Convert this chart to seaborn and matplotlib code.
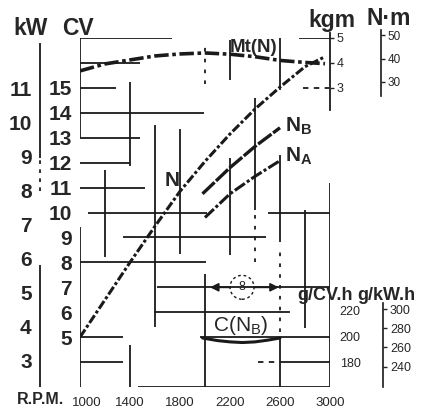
import matplotlib
matplotlib.use("Agg")
import matplotlib.pyplot as plt
import seaborn as sns
from matplotlib.patches import Ellipse
from matplotlib.transforms import ScaledTranslation

# ---------------- data ----------------
rpm_ticks = [1000, 1400, 1800, 2200, 2600, 3000]
cv_ticks = list(range(5, 16))
kw_ticks = list(range(3, 12))
kgm_ticks = [3, 4, 5]
nm_ticks = [30, 40, 50]
gcv_ticks = [180, 200, 220]
gkw_ticks = [240, 260, 280, 300]

rpm_N = [1000, 1200, 1400, 1600, 1800, 2000, 2200, 2400, 2600, 2800, 2960]
power_N_cv = [5.0, 6.5, 8.0, 9.45, 10.85, 12.05, 13.15, 14.15, 15.03, 15.85, 16.25]

rpm_Mt = [1000, 1200, 1400, 1600, 1800, 2000, 2200, 2400, 2600, 2800, 2960]
torque_kgm = [3.68, 3.96, 4.12, 4.28, 4.36, 4.40, 4.35, 4.25, 4.10, 4.02, 3.97]

rpm_NB = [1980, 2200, 2400, 2600]
power_NB_cv = [10.75, 11.8, 12.65, 13.4]

rpm_NA = [2000, 2200, 2400, 2600]
power_NA_cv = [9.8, 10.75, 11.45, 12.08]

rpm_C = [1980, 2100, 2200, 2300, 2400, 2500, 2600]
cons_C_gcvh = [198.5, 196.5, 195.5, 195.0, 195.5, 196.8, 198.5]

# broken grid of the original drawing: (level, from, to)
grid_h = [(17, 1000, 1740), (17, 2750, 3000), (16, 1000, 1480), (15, 1000, 1290),
          (14, 1000, 1990), (13, 1000, 1480), (12, 1000, 1400), (11, 1000, 1520),
          (10, 1060, 2020), (10, 2500, 3000), (9, 1345, 2490), (8, 1000, 2010),
          (7, 1620, 3000), (6, 1590, 2680), (5, 1000, 1340), (5, 1960, 3000),
          (4, 1000, 1340), (4, 2600, 3000), (3, 1460, 3000)]
grid_h_dashed = [(15, 2780, 2990), (4, 2420, 2600)]
grid_v = [(1000, 13.0, 17.0), (1000, 3.0, 9.4), (1200, 8.2, 11.7),
          (1400, 11.85, 15.25), (1400, 3.0, 4.7), (1600, 5.4, 13.5),
          (1800, 8.35, 13.35), (2000, 3.0, 7.55), (2200, 15.3, 16.9),
          (2200, 8.3, 12.2), (2400, 10.1, 14.6), (2600, 14.9, 17.0),
          (2600, 8.8, 12.3), (2600, 3.0, 4.95), (2800, 5.35, 10.1),
          (3000, 3.0, 11.2)]
grid_v_dashed = [(2000, 15.15, 16.75), (2400, 8.0, 10.1), (2600, 5.2, 8.6)]

range_rpm = (2040, 2590)   # arrows around the circled 8
range_cv = 7.0
circle_rpm = 2296

CV_PER_KW = 1.3596
KGM_OFFSET = 12.0   # kgm axis = CV axis - 12

# ---------------- figure ----------------
sns.set_theme(style="white")
plt.rcParams['font.family'] = ['Liberation Sans', 'DejaVu Sans']

W, H = 427, 408
fig = plt.figure(figsize=(W / 100, H / 100), dpi=100)
fig.patch.set_facecolor('white')


def fx(px):
    return px / W


def fy(py):
    return 1 - py / H


ax = fig.add_axes([fx(80), fy(387), fx(330) - fx(80), fy(38) - fy(387)])
ax.set_xlim(1000, 3000)
ax.set_ylim(3, 17)
ax.set_facecolor('none')
for s in ax.spines.values():
    s.set_visible(False)

LW = 1.3
for y, x0, x1 in grid_h:
    ax.hlines(y, x0, x1, color='k', lw=LW)
for y, x0, x1 in grid_h_dashed:
    ax.hlines(y, x0, x1, color='k', lw=LW, linestyles=(0, (3, 3)))
for x, y0, y1 in grid_v:
    ax.vlines(x, y0, y1, color='k', lw=LW)
for x, y0, y1 in grid_v_dashed:
    ax.vlines(x, y0, y1, color='k', lw=LW, linestyles=(0, (2, 4)))

# power curves
sns.lineplot(x=rpm_N, y=power_N_cv, ax=ax, color='k', lw=2.2,
             linestyle=(0, (3, 0.8, 1, 0.8)))
sns.lineplot(x=rpm_NB, y=power_NB_cv, ax=ax, color='k', lw=2.4,
             linestyle=(0, (5, 0.6)))
sns.lineplot(x=rpm_NA, y=power_NA_cv, ax=ax, color='k', lw=2.2,
             linestyle=(0, (4, 0.8, 1, 0.8)))

ax.set_xticks(rpm_ticks)
ax.set_xticklabels([str(v) for v in rpm_ticks])
ax.set_yticks(cv_ticks)
ax.set_yticklabels([str(v) for v in cv_ticks])
ax.tick_params(axis='x', length=0, pad=7, labelsize=9.5)
ax.tick_params(axis='y', length=0, pad=6, labelsize=15)
for t in ax.get_yticklabels():
    t.set_fontweight('bold')
lab0 = ax.get_xticklabels()[0]
lab0.set_transform(lab0.get_transform() + ScaledTranslation(5 / 72, 0, fig.dpi_scale_trans))

# curve labels
ax.text(1736, 11.3, "N", fontsize=15, weight='bold', ha='center', va='center')
ax.text(2640, 13.45, r"N$_\mathregular{B}$", fontsize=15, weight='bold', ha='left', va='center')
ax.text(2640, 12.25, r"N$_\mathregular{A}$", fontsize=15, weight='bold', ha='left', va='center')
ax.text(2392, 16.6, "Mt(N)", fontsize=13.5, weight='bold', ha='center', va='center')
ax.text(2064, 5.48, r"C(N$_\mathregular{B}$)", fontsize=15, ha='left', va='center')

# circled 8 with range arrows
ax.add_patch(Ellipse((circle_rpm, range_cv), width=192, height=0.96, fill=False,
                     ls=(0, (2, 2)), lw=1.0, color='k'))
ax.text(circle_rpm, range_cv, "8", fontsize=9, ha='center', va='center')
ax.annotate('', xy=(range_rpm[0], range_cv), xytext=(circle_rpm - 96, range_cv),
            arrowprops=dict(arrowstyle='-|>', color='k', lw=1.3, mutation_scale=12,
                            shrinkA=0, shrinkB=0))
ax.annotate('', xy=(range_rpm[1], range_cv), xytext=(circle_rpm + 96, range_cv),
            arrowprops=dict(arrowstyle='-|>', color='k', lw=1.3, mutation_scale=12,
                            shrinkA=0, shrinkB=0))

# torque axis (kgm) on the right
ax_t = ax.twinx()
ax_t.set_ylim(3 - KGM_OFFSET, 17 - KGM_OFFSET)
for k, s in ax_t.spines.items():
    s.set_visible(k == 'right')
ax_t.spines['right'].set_bounds(2.1, 5.2)
ax_t.spines['right'].set_linewidth(LW)
ax_t.spines['right'].set_color('k')
ax_t.set_yticks(kgm_ticks)
ax_t.tick_params(axis='y', direction='out', length=3, width=1, pad=2, labelsize=9)
sns.lineplot(x=rpm_Mt, y=torque_kgm, ax=ax_t, color='k', lw=2.6,
             linestyle=(0, (4, 1, 1, 1)))
ax_t.set_ylabel('')

# consumption axis (g/CV.h)
ax_g = ax.twinx()
g_lo, g_hi = 160.8, 429.2
ax_g.set_ylim(g_lo, g_hi)
for s in ax_g.spines.values():
    s.set_visible(False)
ax_g.set_yticks(gcv_ticks)
ax_g.tick_params(axis='y', length=0, pad=7, labelsize=9)
sns.lineplot(x=rpm_C, y=cons_C_gcvh, ax=ax_g, color='k', lw=2.2)
ax_g.set_ylabel('')

# g/kW.h axis
ax_gk = fig.add_axes([fx(380), fy(387), fx(383) - fx(380), fy(38) - fy(387)])
ax_gk.set_ylim(g_lo * CV_PER_KW, g_hi * CV_PER_KW)
ax_gk.patch.set_visible(False)
for k, s in ax_gk.spines.items():
    s.set_visible(k == 'right')
ax_gk.spines['right'].set_bounds(g_lo * CV_PER_KW, 306)
ax_gk.spines['right'].set_color('k')
ax_gk.spines['right'].set_linewidth(1.2)
ax_gk.set_xticks([])
ax_gk.yaxis.tick_right()
ax_gk.set_yticks(gkw_ticks)
ax_gk.tick_params(axis='y', direction='out', length=3, width=1, pad=2, labelsize=9)

# N.m axis
nm_lo, nm_hi = 22.34, 52.98
ax_nm = fig.add_axes([fx(378), fy(100), fx(381) - fx(378), fy(28) - fy(100)])
ax_nm.set_ylim(nm_lo, nm_hi)
ax_nm.patch.set_visible(False)
for k, s in ax_nm.spines.items():
    s.set_visible(k == 'right')
ax_nm.spines['right'].set_bounds(23.9, 52.1)
ax_nm.spines['right'].set_color('k')
ax_nm.spines['right'].set_linewidth(1.2)
ax_nm.set_xticks([])
ax_nm.yaxis.tick_right()
ax_nm.set_yticks(nm_ticks)
ax_nm.tick_params(axis='y', direction='out', length=3, width=1, pad=2, labelsize=8.5)

# kW axis on the far left
ax_kw = fig.add_axes([fx(40), fy(387), fx(3), fy(38) - fy(387)])
ax_kw.set_ylim(3 / CV_PER_KW, 17 / CV_PER_KW)
ax_kw.patch.set_visible(False)
for s in ax_kw.spines.values():
    s.set_visible(False)
ax_kw.set_xticks([])
ax_kw.set_yticks(kw_ticks)
ax_kw.tick_params(axis='y', direction='out', length=4, width=1.3, pad=2, labelsize=15)
for t in ax_kw.get_yticklabels():
    t.set_fontweight('bold')
tr = ax_kw.get_yaxis_transform()
ax_kw.vlines(0, 8.97, 12.36, color='k', lw=LW, transform=tr, clip_on=False)
ax_kw.vlines(0, 8.0, 8.97, color='k', lw=LW, transform=tr, clip_on=False,
             linestyles=(0, (2, 3)))
ax_kw.vlines(0, 3 / CV_PER_KW, 5.8, color='k', lw=LW, transform=tr, clip_on=False)

# axis titles
fig.text(fx(31), fy(35), "kW", fontsize=16.5, weight='bold', ha='center', va='baseline')
fig.text(fx(78), fy(35), "CV", fontsize=16.5, weight='bold', ha='center', va='baseline')
fig.text(fx(332), fy(27), "kgm", fontsize=16.5, weight='bold', ha='center', va='baseline')
fig.text(fx(389), fy(25), "N·m", fontsize=16.5, weight='bold', ha='center', va='baseline')
fig.text(fx(17), fy(404), "R.P.M.", fontsize=11.5, weight='bold', ha='left', va='baseline')
fig.text(fx(297), fy(300), "g/CV.h", fontsize=13, weight='bold', ha='left', va='baseline')
fig.text(fx(357), fy(300), "g/kW.h", fontsize=13, weight='bold', ha='left', va='baseline')

fig.savefig("out.png", dpi=100, facecolor='white')
